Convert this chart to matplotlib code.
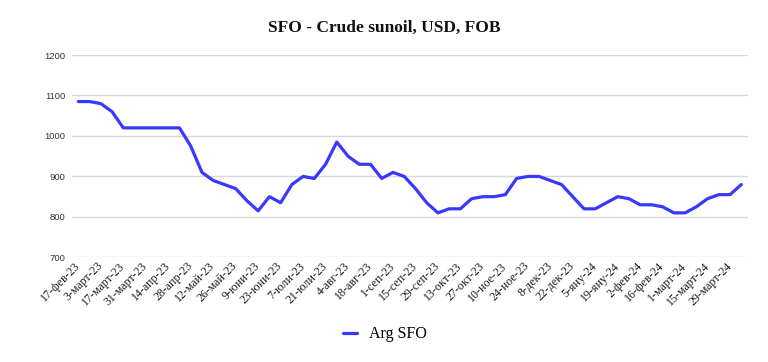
import matplotlib
matplotlib.use("Agg")
import matplotlib.pyplot as plt

values = [1085, 1085, 1080, 1060, 1020, 1020, 1020, 1020, 1020, 1020,
          975, 910, 890, 880, 870, 840, 815, 850, 835, 880,
          900, 895, 930, 985, 950, 930, 930, 895, 910, 900,
          870, 835, 810, 820, 820, 845, 850, 850, 855, 895,
          900, 900, 890, 880, 850, 820, 820, 835, 850, 845,
          830, 830, 825, 810, 810, 825, 845, 855, 855, 880]

tick_labels = ["17-фев-23", "3-март-23", "17-март-23", "31-март-23", "14-апр-23",
               "28-апр-23", "12-май-23", "26-май-23", "9-юни-23", "23-юни-23",
               "7-юли-23", "21-юли-23", "4-авг-23", "18-авг-23", "1-сеп-23",
               "15-сеп-23", "29-сеп-23", "13-окт-23", "27-окт-23", "10-ное-23",
               "24-ное-23", "8-дек-23", "22-дек-23", "5-яну-24", "19-яну-24",
               "2-фев-24", "16-фев-24", "1-март-24", "15-март-24", "29-март-24"]

series_name = "Arg SFO"
title = "SFO - Crude sunoil, USD, FOB"
yticks = [700, 800, 900, 1000, 1100, 1200]

fig = plt.figure(figsize=(7.68, 3.62), dpi=100)
ax = fig.add_axes([0.094, 0.289, 0.880, 0.559])

x = list(range(len(values)))
ax.plot(x, values, color="#3838ff", lw=2.3, solid_joinstyle="round",
        solid_capstyle="round", label=series_name, zorder=3)

ax.set_ylim(700, 1200)
ax.set_xlim(-0.55, len(values) - 1 + 0.6)
ax.set_yticks(yticks)
ax.set_yticklabels([str(v) for v in yticks], fontsize=6.8, color="#333333",
                   family="Liberation Sans")
ax.yaxis.grid(True, color="#d9d9d9", lw=1.0)
ax.set_axisbelow(True)
for s in ax.spines.values():
    s.set_visible(False)
ax.tick_params(axis="both", length=0)
ax.tick_params(axis="y", pad=5)

tick_pos = x[::2][:len(tick_labels)]
ax.set_xticks(tick_pos)
ax.set_xticklabels(tick_labels, rotation=45, ha="right", va="center",
                   rotation_mode="anchor", fontsize=8.6, family="Liberation Serif",
                   color="#1a1a1a")
for lbl in ax.get_xticklabels():
    lbl.set_x(lbl.get_position()[0])
ax.tick_params(axis="x", pad=5)

fig.text(0.5, 0.922, title, ha="center", va="center", fontsize=12.5,
         fontweight="bold", family="Liberation Serif", color="#111111")

leg = fig.legend(loc="center", bbox_to_anchor=(0.501, 0.077), frameon=False,
                 prop={"family": "Liberation Serif", "size": 11.5},
                 handlelength=0.9, handletextpad=0.7)

fig.savefig("out.png", dpi=100, facecolor="white")
